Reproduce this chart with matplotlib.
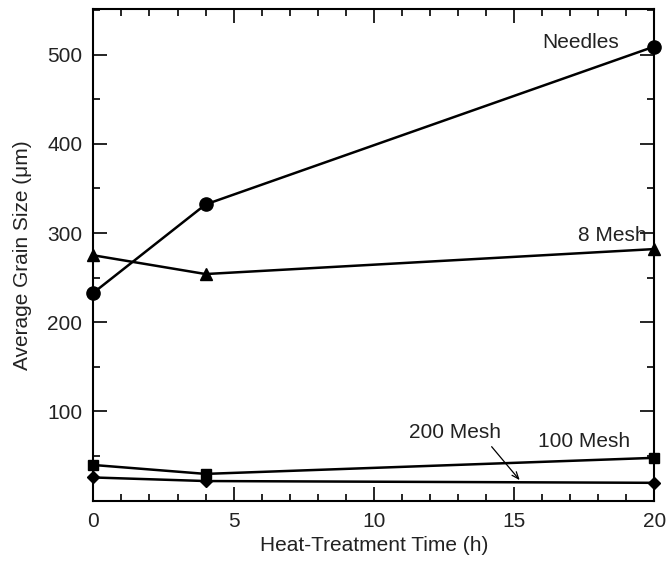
import matplotlib.pyplot as plt
from matplotlib.ticker import MultipleLocator

plt.rcParams['font.family'] = ['Liberation Sans', 'DejaVu Sans']

time_h = [0, 4, 20]
needles = [233, 332, 509]
mesh8 = [275, 254, 282]
mesh100 = [40, 30, 48]
mesh200 = [26, 22, 20]

fig = plt.figure(figsize=(6.67, 5.67), dpi=100)
ax = fig.add_axes([0.140, 0.117, 0.841, 0.867])

ax.plot(time_h, needles, 'k-', marker='o', ms=9.5, lw=1.8, clip_on=False, zorder=3)
ax.plot(time_h, mesh8, 'k-', marker='^', ms=8.5, lw=1.8, clip_on=False, zorder=3)
ax.plot(time_h, mesh100, 'k-', marker='s', ms=7, lw=1.8, clip_on=False, zorder=3)
ax.plot(time_h, mesh200, 'k-', marker='D', ms=6.5, lw=1.8, clip_on=False, zorder=3)

ax.set_xlim(0, 20)
ax.set_ylim(0, 551)
ax.xaxis.set_major_locator(MultipleLocator(5))
ax.xaxis.set_minor_locator(MultipleLocator(1))
ax.set_yticks([100, 200, 300, 400, 500])
ax.yaxis.set_minor_locator(MultipleLocator(50))
ax.tick_params(which='both', direction='in', top=True, right=True, width=1.2)
ax.tick_params(which='major', length=10, labelsize=15, pad=8, labelcolor='#222222')
ax.tick_params(which='minor', length=5)
for s in ax.spines.values():
    s.set_linewidth(1.5)

ax.set_xlabel('Heat-Treatment Time (h)', fontsize=15, labelpad=4, color='#222222')
ax.set_ylabel('Average Grain Size (μm)', fontsize=15, labelpad=11, color='#222222')

ax.text(17.36, 514, 'Needles', fontsize=15, ha='center', va='center', color='#222222')
ax.text(18.5, 297, '8 Mesh', fontsize=15, ha='center', va='center', color='#222222')
ax.text(17.5, 66, '100 Mesh', fontsize=15, ha='center', va='center', color='#222222')
ax.text(12.9, 76, '200 Mesh', fontsize=15, ha='center', va='center', color='#222222')
ax.annotate('', xy=(15.2, 23), xytext=(14.2, 60.5),
            arrowprops=dict(arrowstyle='->,head_length=0.5,head_width=0.2',
                            color='k', lw=0.9, shrinkA=0, shrinkB=0))

fig.savefig('out.png', dpi=100)
